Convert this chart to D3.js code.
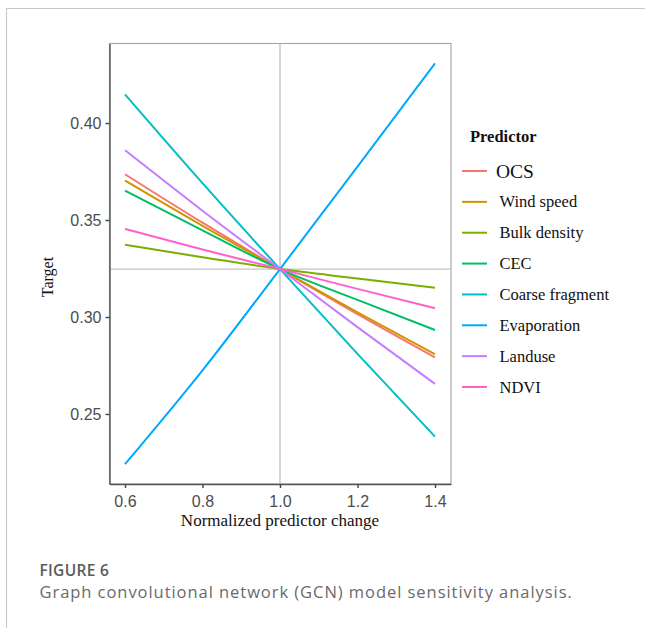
<!DOCTYPE html>
<html>
<head>
<meta charset="utf-8">
<script src="https://cdn.jsdelivr.net/npm/d3@7"></script>
<style>
  html, body { margin: 0; padding: 0; background: #fff; }
  svg { display: block; }
</style>
</head>
<body>
<svg id="chart" width="645" height="628"></svg>
<script>
// ---- data ----
const xValues = [0.6, 0.8, 1.0, 1.2, 1.4];
const predictors = ["OCS", "Wind speed", "Bulk density", "CEC", "Coarse fragment", "Evaporation", "Landuse", "NDVI"];
const ocs        = [0.3736, 0.3486, 0.3247, 0.3015, 0.2792];
const windSpeed  = [0.3703, 0.3470, 0.3247, 0.3024, 0.2808];
const bulkDensity= [0.3372, 0.3308, 0.3247, 0.3199, 0.3151];
const cec        = [0.3651, 0.3446, 0.3247, 0.3088, 0.2933];
const coarseFrag = [0.4148, 0.3690, 0.3247, 0.2810, 0.2383];
const evaporation= [0.2241, 0.2725, 0.3247, 0.3775, 0.4308];
const landuse    = [0.3860, 0.3548, 0.3247, 0.2948, 0.2655];
const ndvi       = [0.3454, 0.3348, 0.3247, 0.3145, 0.3045];
const seriesValues = [ocs, windSpeed, bulkDensity, cec, coarseFrag, evaporation, landuse, ndvi];
const colors = ["#F8766D", "#CD9600", "#7CAE00", "#00BE67", "#00BFC4", "#00A9FF", "#C77CFF", "#FF61CC"];
const xTicks = [0.6, 0.8, 1.0, 1.2, 1.4];
const yTicks = [0.25, 0.30, 0.35, 0.40];
const refX = 1.0;
const refY = 0.3247;

// ---- layout ----
const svg = d3.select("#chart");
const plot = { left: 109.5, right: 451, top: 43.5, bottom: 484 };
const x = d3.scaleLinear().domain([0.56, 1.4413]).range([plot.left, plot.right]);
const y = d3.scaleLinear().domain([0.2139, 0.441]).range([plot.bottom, plot.top]);

// card border
svg.append("path")
  .attr("d", `M6.5,628 V8.5 H645`)
  .attr("fill", "none").attr("stroke", "#c8c8c8").attr("stroke-width", 1.2);

// panel border
svg.append("rect")
  .attr("x", plot.left).attr("y", plot.top)
  .attr("width", plot.right - plot.left).attr("height", plot.bottom - plot.top)
  .attr("fill", "none").attr("stroke", "#a8a8a8").attr("stroke-width", 1.2);

// reference lines
svg.append("line")
  .attr("x1", plot.left).attr("x2", plot.right)
  .attr("y1", y(refY)).attr("y2", y(refY))
  .attr("stroke", "#c4c4c4").attr("stroke-width", 1.4);
svg.append("line")
  .attr("x1", x(refX)).attr("x2", x(refX))
  .attr("y1", plot.top).attr("y2", plot.bottom)
  .attr("stroke", "#c4c4c4").attr("stroke-width", 1.4);

// series lines
const line = d3.line().x(d => x(d[0])).y(d => y(d[1])).curve(d3.curveMonotoneX);
predictors.forEach((p, i) => {
  const pts = xValues.map((xv, j) => [xv, seriesValues[i][j]]);
  svg.append("path")
    .datum(pts)
    .attr("d", line)
    .attr("fill", "none")
    .attr("stroke", colors[i])
    .attr("stroke-width", 2);
});

// axes
const xAxis = d3.axisBottom(x).tickValues(xTicks).tickFormat(d3.format(".1f")).tickSize(4).tickSizeOuter(0);
const yAxis = d3.axisLeft(y).tickValues(yTicks).tickFormat(d3.format(".2f")).tickSize(4).tickSizeOuter(0);

const gx = svg.append("g").attr("transform", `translate(0,${plot.bottom})`).call(xAxis);
const gy = svg.append("g").attr("transform", `translate(${plot.left},0)`).call(yAxis);
[gx, gy].forEach(g => {
  g.attr("font-family", "'Liberation Sans', Arial, sans-serif").attr("font-size", 16);
  g.select(".domain").attr("stroke", "#555").attr("stroke-width", 1.4);
  g.selectAll(".tick line").attr("stroke", "#444").attr("stroke-width", 1.4);
  g.selectAll(".tick text")
    .attr("fill", "#4d4d4d")
    .style("font-family", "'Liberation Sans', Arial, sans-serif")
    .style("font-size", "16px");
});
gx.selectAll(".tick text").attr("dy", null).attr("y", 23);
gy.selectAll(".tick text").attr("x", -8).attr("dy", "0.36em");

// axis titles
svg.append("text")
  .attr("x", x(1.0)).attr("y", 526)
  .attr("text-anchor", "middle")
  .style("font-family", "'Liberation Serif', 'Times New Roman', serif")
  .style("font-size", "17px")
  .attr("fill", "#111")
  .text("Normalized predictor change");
svg.append("text")
  .attr("transform", "translate(53,277) rotate(-90)")
  .attr("text-anchor", "middle")
  .style("font-family", "'Liberation Serif', 'Times New Roman', serif")
  .style("font-size", "16px")
  .attr("fill", "#111")
  .text("Target");

// legend
const legend = svg.append("g");
legend.append("text")
  .attr("x", 470).attr("y", 142)
  .style("font-family", "'Liberation Serif', 'Times New Roman', serif")
  .style("font-size", "16.5px").style("font-weight", "bold")
  .attr("fill", "#111")
  .text("Predictor");
const legY = d3.scalePoint().domain(predictors).range([171, 387]);
predictors.forEach((p, i) => {
  const yy = legY(p);
  legend.append("line")
    .attr("x1", 462).attr("x2", 487).attr("y1", yy).attr("y2", yy)
    .attr("stroke", colors[i]).attr("stroke-width", 2);
  const big = i === 0;
  legend.append("text")
    .attr("x", big ? 496 : 499.5).attr("y", yy + (big ? 6.5 : 5.5))
    .style("font-family", "'Liberation Serif', 'Times New Roman', serif")
    .style("font-size", big ? "19.5px" : "16.5px")
    .attr("fill", "#111")
    .text(p);
});

// caption
svg.append("text")
  .attr("x", 39.5).attr("y", 576)
  .style("font-family", "'Open Sans', sans-serif")
  .style("font-size", "15.5px").style("font-weight", "600")
  .style("letter-spacing", "0.3px")
  .attr("fill", "#5a5a5a")
  .text("FIGURE 6");
svg.append("text")
  .attr("x", 39.5).attr("y", 598)
  .style("font-family", "'Open Sans', sans-serif")
  .style("font-size", "16.5px")
  .style("letter-spacing", "0.95px")
  .attr("fill", "#6a6a6a")
  .text("Graph convolutional network (GCN) model sensitivity analysis.");
</script>
</body>
</html>
